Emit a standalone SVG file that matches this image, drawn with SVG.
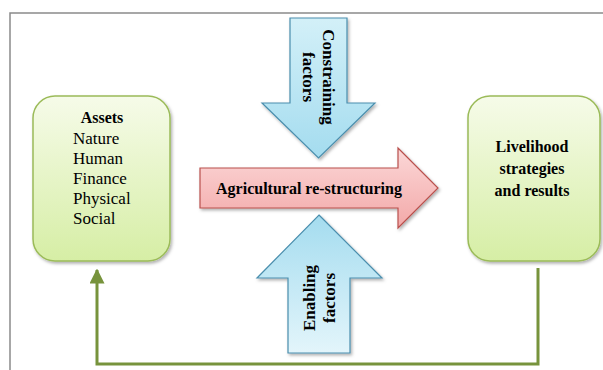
<svg xmlns="http://www.w3.org/2000/svg" width="603" height="370" viewBox="0 0 603 370">
  <style>
    .frame { fill: none; stroke: #8a8a8a; stroke-width: 1.5; }
    .box { stroke: #9bbb59; stroke-width: 1.5; fill: url(#gGreen); filter: url(#sh); }
    .blue { stroke: #4a8ead; stroke-width: 1.2; filter: url(#sh); }
    .pink { stroke: #b9504d; stroke-width: 1.2; fill: url(#gPink); filter: url(#sh); }
    .t { font-family: "Liberation Serif", "Times New Roman", serif; fill: #000; }
    .b { font-weight: bold; }
    .conn { fill: none; stroke: #77933c; stroke-width: 3; }
  </style>
  <defs>
    <linearGradient id="gGreen" x1="0" y1="0" x2="0" y2="1">
      <stop offset="0" stop-color="#f6fbe9"/>
      <stop offset="1" stop-color="#d6eea5"/>
    </linearGradient>
    <linearGradient id="gPink" x1="0" y1="0" x2="0" y2="1">
      <stop offset="0" stop-color="#fbd8d8"/>
      <stop offset="1" stop-color="#f3a8a8"/>
    </linearGradient>
    <linearGradient id="gBlueDown" x1="0" y1="0" x2="0" y2="1">
      <stop offset="0" stop-color="#d3f0f8"/>
      <stop offset="1" stop-color="#a4dcef"/>
    </linearGradient>
    <linearGradient id="gBlueUp" x1="0" y1="0" x2="0" y2="1">
      <stop offset="0" stop-color="#a4dcef"/>
      <stop offset="1" stop-color="#e3f5fb"/>
    </linearGradient>
    <filter id="sh" x="-10%" y="-10%" width="130%" height="130%">
      <feDropShadow dx="1.5" dy="2" stdDeviation="1.5" flood-color="#000" flood-opacity="0.3"/>
    </filter>
    <marker id="arr" viewBox="0 0 10 10" refX="9" refY="5" markerWidth="5" markerHeight="5" orient="auto" markerUnits="strokeWidth">
      <path d="M0,0 L10,5 L0,10 Z" fill="#77933c"/>
    </marker>
  </defs>

  <rect x="0" y="0" width="603" height="370" fill="#ffffff"/>
  <path class="frame" d="M10,370 V13 H603"/>

  <g id="connectors">
    <path class="conn" d="M538,268 V364 H97 V270" marker-end="url(#arr)"/>
  </g>

  <g id="assets">
    <rect class="box" x="33" y="96" width="137" height="165" rx="22" ry="22"/>
    <text class="t b" x="102" y="123" font-size="16" text-anchor="middle">Assets</text>
    <text class="t" x="73" y="144" font-size="17">Nature</text>
    <text class="t" x="73" y="164" font-size="17">Human</text>
    <text class="t" x="73" y="184" font-size="17">Finance</text>
    <text class="t" x="73" y="204" font-size="17">Physical</text>
    <text class="t" x="73" y="224" font-size="17">Social</text>
  </g>

  <g id="livelihood">
    <rect class="box" x="468" y="96" width="132" height="165" rx="22" ry="22"/>
    <text class="t b" x="532" y="152" font-size="16" text-anchor="middle">Livelihood</text>
    <text class="t b" x="532" y="174" font-size="16" text-anchor="middle">strategies</text>
    <text class="t b" x="532" y="196" font-size="16" text-anchor="middle">and results</text>
  </g>

  <g id="constraining">
    <path class="blue" fill="url(#gBlueDown)" d="M290,18 H347 V103 H375 L318.5,158 L262,103 H290 Z"/>
    <g transform="translate(323,77) rotate(90)">
      <text class="t b" x="0" y="0" font-size="17" text-anchor="middle">Constraining</text>
      <text class="t b" x="0" y="20" font-size="17" text-anchor="middle">factors</text>
    </g>
  </g>

  <g id="restructuring">
    <path class="pink" d="M200,168 H398 V148 L438,188 L398,228 V208 H200 Z"/>
    <text class="t b" x="309" y="194" font-size="16" text-anchor="middle">Agricultural re-structuring</text>
  </g>

  <g id="enabling">
    <path class="blue" fill="url(#gBlueUp)" d="M319,215 L382,278 H350 V353 H288 V278 H257 Z"/>
    <g transform="translate(315,298) rotate(-90)">
      <text class="t b" x="0" y="0" font-size="17" text-anchor="middle">Enabling</text>
      <text class="t b" x="0" y="20" font-size="17" text-anchor="middle">factors</text>
    </g>
  </g>
</svg>
